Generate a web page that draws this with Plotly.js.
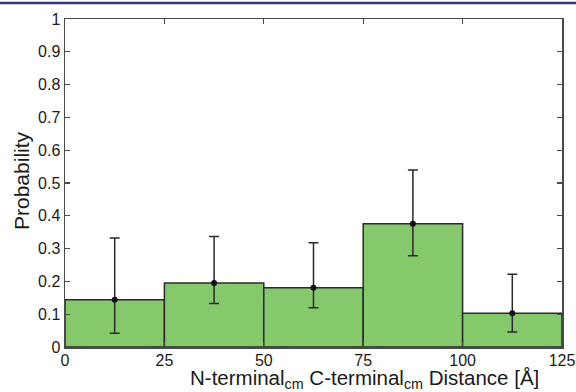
<!DOCTYPE html>
<html>
<head>
<meta charset="utf-8">
<script src="https://cdn.plot.ly/plotly-3.0.1.min.js"></script>
<style>
html,body{margin:0;padding:0;background:#fff;}
#chart{width:576px;height:392px;}
</style>
</head>
<body>
<div id="chart"></div>
<script>
// Data
const binCenters = [12.5, 37.5, 62.5, 87.5, 112.5];
const binWidth = 25;
const probability = [0.144, 0.195, 0.181, 0.376, 0.103];
const upperBound = [0.332, 0.337, 0.318, 0.540, 0.222];
const lowerBound = [0.042, 0.133, 0.120, 0.278, 0.046];
const xTicks = [0, 25, 50, 75, 100, 125];
const yTicks = [0, 0.1, 0.2, 0.3, 0.4, 0.5, 0.6, 0.7, 0.8, 0.9, 1];

const errPlus = probability.map((v, i) => upperBound[i] - v);
const errMinus = probability.map((v, i) => v - lowerBound[i]);

const L = 65, R = 562, T = 19, B = 347, W = 576, H = 392;
const pw = R - L, ph = B - T;

const bars = {
  type: 'bar',
  x: binCenters,
  y: probability,
  width: binCenters.map(() => binWidth),
  marker: {color: '#86c86c', line: {color: '#2a2a2a', width: 1.5}},
  hoverinfo: 'skip',
  showlegend: false
};
const points = {
  type: 'scatter',
  mode: 'markers',
  x: binCenters,
  y: probability,
  marker: {color: '#111', size: 6},
  error_y: {type: 'data', symmetric: false, array: errPlus, arrayminus: errMinus,
            color: '#2a2a2a', thickness: 1.5, width: 5},
  showlegend: false
};

const fam = 'Liberation Sans, Arial, sans-serif';

const layout = {
  width: W, height: H,
  margin: {l: L, r: W - R, t: T, b: H - B, pad: 0},
  paper_bgcolor: '#fff',
  plot_bgcolor: '#fff',
  showlegend: false,
  bargap: 0,
  xaxis: {
    range: [0, 125], tickvals: xTicks, ticktext: xTicks.map(String),
    ticks: 'inside', ticklen: 5, tickwidth: 1.2, tickcolor: '#4a4a4a',
    showline: true, linecolor: '#4a4a4a', linewidth: 1.5, mirror: 'ticks',
    showgrid: false, zeroline: false, ticklabelstandoff: -2,
    tickfont: {family: fam, size: 16, color: '#1a1a1a'}
  },
  yaxis: {
    range: [0, 1], tickvals: yTicks, ticktext: yTicks.map(String),
    ticks: 'inside', ticklen: 5, tickwidth: 1.2, tickcolor: '#4a4a4a',
    showline: true, linecolor: '#4a4a4a', linewidth: 1.5, mirror: 'ticks',
    showgrid: false, zeroline: false,
    tickfont: {family: fam, size: 16, color: '#1a1a1a'}
  },
  annotations: [
    {
      xref: 'paper', yref: 'paper',
      x: (364 - L) / pw, y: (B - 379) / ph,
      xanchor: 'center', yanchor: 'middle', showarrow: false,
      text: 'N-terminal<sub>cm</sub> C-terminal<sub>cm</sub> Distance [Å]',
      font: {family: fam, size: 20.5, color: '#1a1a1a'}
    },
    {
      xref: 'paper', yref: 'paper',
      x: (21 - L) / pw, y: (B - 181) / ph,
      xanchor: 'center', yanchor: 'middle', showarrow: false,
      textangle: -90,
      text: 'Probability',
      font: {family: fam, size: 21, color: '#1a1a1a'}
    }
  ],
  shapes: [
    {
      type: 'line', xref: 'paper', yref: 'paper',
      x0: -L / pw, x1: (W - L) / pw,
      y0: (B - 3) / ph, y1: (B - 3) / ph,
      line: {color: '#2d3a7c', width: 2.5}
    }
  ]
};

Plotly.newPlot('chart', [bars, points], layout, {staticPlot: true, displayModeBar: false});
</script>
</body>
</html>
